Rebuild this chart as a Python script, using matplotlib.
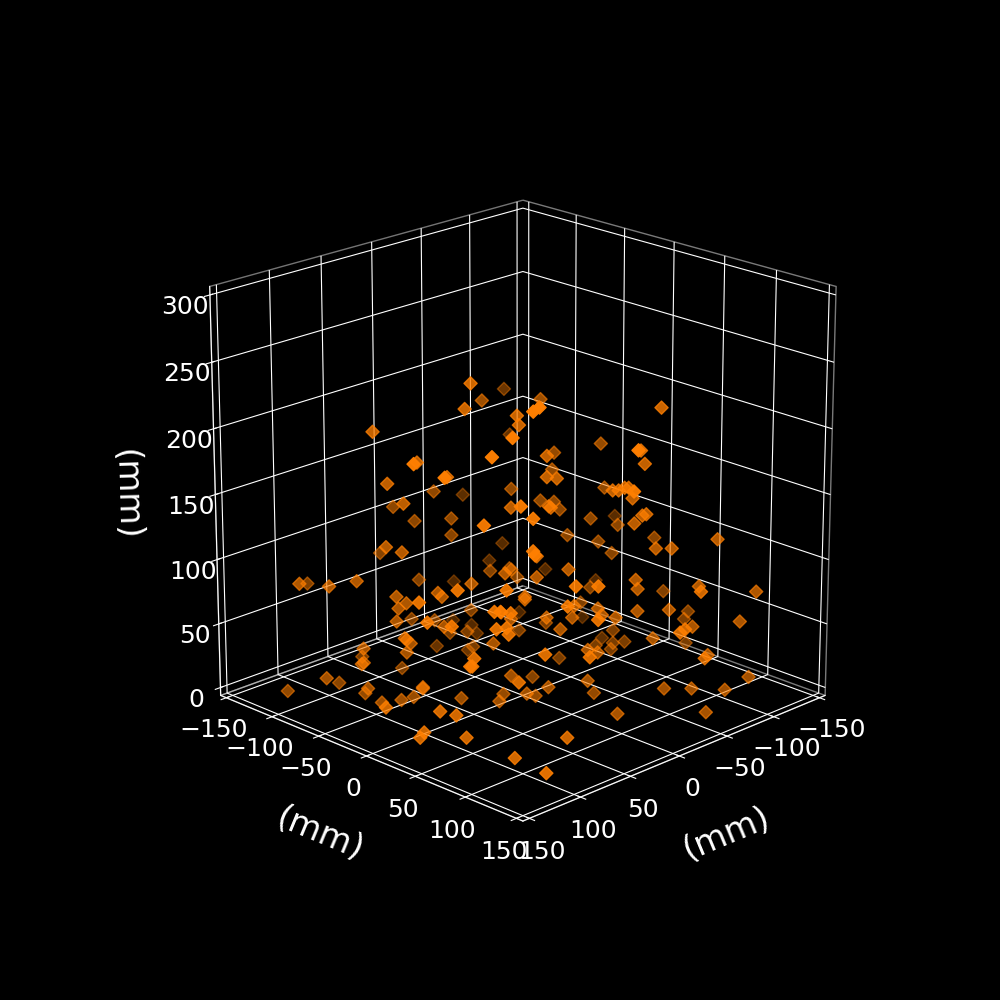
import numpy as np
import matplotlib
matplotlib.use('Agg')
import matplotlib.pyplot as plt

# positions, mm
x = [51,-85,-9,54,28,27,-88,90,100,100,78,138,63,123,93,-24,16,-63,85,37,31,86,26,7,104,7,-84,94,44,86,-77,-13,-23,34,-27,138,82,123,109,24,-58,51,117,93,-39,80,77,-44,-70,29,-34,-36,13,-46,-45,13,8,-72,-20,-23,-26,-28,31,-30,-39,12,-46,-49,11,80,-65,-144,-79,-31,-35,-37,-53,-69,-76,-98,-42,-50,-73,80,79,18,-24,-107,18,2,59,-134,-65,48,-32,-33,-103,-64,-29,-93,24,129,125,92,106,54,106,107,104,92,97,148,89,88,84,136,68,66,89,28,132,16,-3,99,96,65,120,-53,8,-56,-1,-47,98,93,92,85,82,84,-8,40,-19,-4,109,110,111,84,40,76,24,63,-1,-60,0,-127,-93,91,31,36,13,-42,6,-13,-15,48,-22,-77,-107,-77,-76,-83,-68,-8,-13,52,-28,74,-49,31,87,-16,12,-8,-33,-49,-116,-114,-61,-85,-8,-13,-115,-41,-69,-34,-90,-47,-61,-78,87,72,76,49,126,118,134,136,113,98,101,22,37,23,8,63,-10,-26,-57]
y = [-1,-105,-51,-4,22,23,-102,80,-50,70,-28,32,-13,47,-43,-36,-76,-127,-35,-97,19,84,-86,-67,66,-67,-106,-44,-104,-36,-113,-47,-37,16,-33,-88,-142,-73,-59,-84,-132,-1,53,77,-21,90,93,94,10,141,84,86,37,-14,-15,37,42,12,70,73,76,78,139,80,-21,38,-14,-11,39,90,5,-46,19,81,85,87,-7,9,16,38,92,100,123,90,91,32,-36,-83,32,48,111,-56,5,122,82,83,43,114,148,143,26,-113,-75,-98,-56,-114,-56,-57,-54,-70,-47,12,-39,-38,-34,34,-18,-16,-39,-88,38,-76,-57,71,74,-15,50,-128,-68,-111,-59,-96,72,77,78,-35,-32,-34,-99,10,-77,-56,61,60,59,-34,-86,-26,26,107,51,0,50,-63,-97,79,19,14,37,-18,44,63,65,122,72,17,-23,17,16,23,8,58,63,118,-32,96,-11,19,83,-6,38,58,83,99,56,54,111,135,148,148,55,91,119,148,140,97,111,128,-37,-40,-26,-14,44,52,36,34,57,90,124,2,13,27,21,107,86,47,129]
z = [246,185,207,227,222,215,149,235,210,221,187,216,176,206,171,139,137,101,156,125,153,185,114,116,171,103,62,123,89,119,48,75,77,103,70,95,65,93,97,68,31,95,123,123,208,254,257,228,174,226,196,186,192,167,154,176,175,140,166,166,168,168,196,160,130,154,129,123,153,176,116,84,111,141,147,148,103,98,89,101,122,122,129,152,149,116,76,41,100,106,126,32,62,126,98,91,59,93,108,89,85,2,22,2,45,7,34,33,14,2,3,32,85,76,80,114,88,85,66,37,99,36,44,107,107,62,96,2,26,2,27,2,94,95,90,53,49,52,2,49,2,15,72,66,66,42,2,15,83,111,78,50,69,2,6,106,68,73,69,34,60,76,71,101,69,28,2,18,13,19,16,44,42,73,28,75,6,24,54,2,15,20,74,75,43,37,62,66,83,84,18,53,40,56,23,14,14,13,5,2,14,2,32,29,16,12,12,2,2,2,4,10,2,12,2,2,2]

xy_ticks = np.arange(-150, 151, 50)
z_ticks = np.arange(0, 301, 50)

plt.style.use('dark_background')
fig = plt.figure(figsize=(10, 10), dpi=100)
ax = fig.add_subplot(111, projection='3d')
ax.scatter(x, y, z, marker='D', s=45, c='#ff7f00')

ax.set_xlim(-156.25, 156.25)
ax.set_ylim(-156.25, 156.25)
ax.set_zlim(-6.25, 306.25)
ax.set_box_aspect((1, 1, 1), zoom=0.95)
ax.view_init(elev=20, azim=45)
ax.set_xticks(xy_ticks)
ax.set_yticks(xy_ticks)
ax.set_zticks(z_ticks)
ax.tick_params(labelsize=18)

ax.set_xlabel('(mm)', fontsize=24, labelpad=21)
ax.set_ylabel('(mm)', fontsize=24, labelpad=21)
ax.set_zlabel('(mm)', fontsize=24, labelpad=21)
for axis in (ax.xaxis, ax.yaxis, ax.zaxis):
    axis.set_rotate_label(True)
    axis.pane.fill = False

fig.savefig('out.png')
